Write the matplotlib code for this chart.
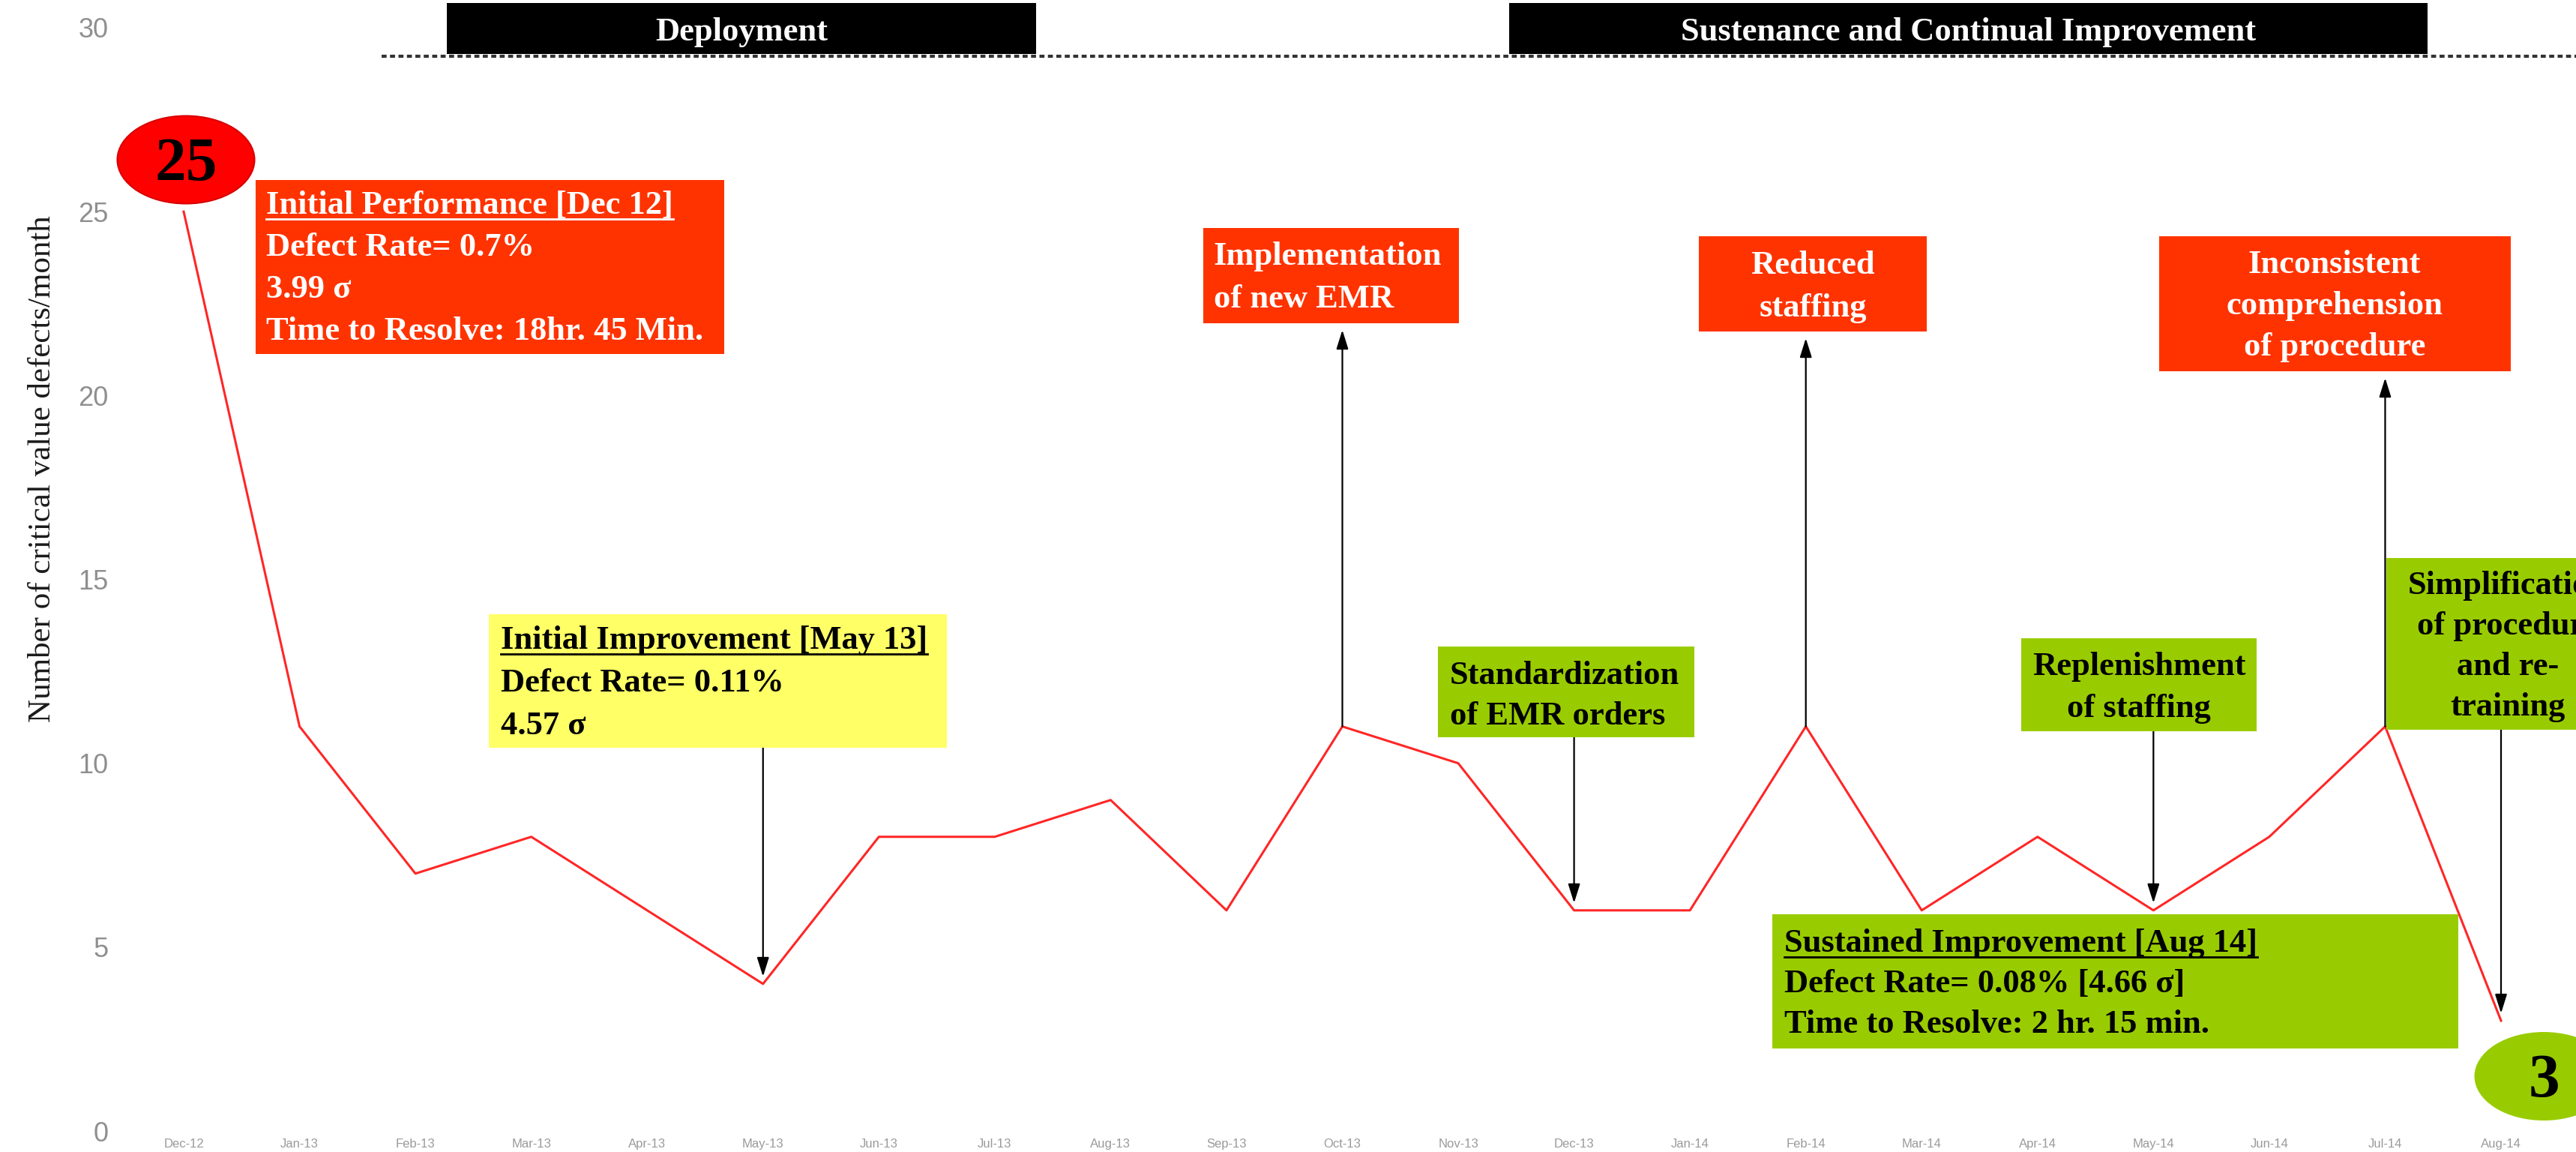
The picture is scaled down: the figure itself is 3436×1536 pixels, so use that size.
import matplotlib
matplotlib.use('Agg')
import matplotlib.pyplot as plt
import matplotlib.patches as patches
import matplotlib.transforms as mtransforms
from matplotlib.lines import Line2D

# ---- data ----
months = ['Dec-12', 'Jan-13', 'Feb-13', 'Mar-13', 'Apr-13', 'May-13', 'Jun-13',
          'Jul-13', 'Aug-13', 'Sep-13', 'Oct-13', 'Nov-13', 'Dec-13', 'Jan-14',
          'Feb-14', 'Mar-14', 'Apr-14', 'May-14', 'Jun-14', 'Jul-14', 'Aug-14']
defects = [25, 11, 7, 8, 6, 4, 8, 8, 9, 6, 11, 10, 6, 6, 11, 6, 8, 6, 8, 11, 3]

y_ticks = [0, 5, 10, 15, 20, 25, 30]
y_label = 'Number of critical value defects/month'
phases = ['Deployment', 'Sustenance and Continual Improvement']

# event text, month the arrow points at
events = [
    (['Initial Improvement [May 13]', 'Defect Rate= 0.11%', '4.57 \u03c3'], 'May-13'),
    (['Implementation', 'of new EMR'], 'Oct-13'),
    (['Standardization', 'of EMR orders'], 'Dec-13'),
    (['Reduced', 'staffing'], 'Feb-14'),
    (['Replenishment', 'of staffing'], 'May-14'),
    (['Inconsistent', 'comprehension', 'of procedure'], 'Jul-14'),
    (['Simplification', 'of procedure', 'and re-', 'training'], 'Aug-14'),
]
summary_start = ['Initial Performance [Dec 12]', 'Defect Rate= 0.7%', '3.99 \u03c3',
                 'Time to Resolve: 18hr. 45 Min.']
summary_end = ['Sustained Improvement [Aug 14]', 'Defect Rate= 0.08% [4.66 \u03c3]',
               'Time to Resolve: 2 hr. 15 min.']

# ---- styling / layout (pixels from top-left) ----
W, H = 3437, 1536
RED_BOX = '#ff3300'
GREEN = '#99cc00'
YELLOW = '#ffff66'
SERIF = 'Liberation Serif'
FS = 32
CAP = 27  # cap top -> baseline, px

fig = plt.figure(figsize=(W / 100, H / 100), dpi=100)
ax = fig.add_axes([150 / W, 28 / H, 1 - 150 / W, (1508 - 37) / H])
ax.set_xlim((150 - 245) / 154.55, (W - 245) / 154.55)
ax.set_ylim(0, 30)
for s in ax.spines.values():
    s.set_visible(False)

# pixel coordinate transform (origin top-left)
pix = mtransforms.Affine2D().scale(1.0 / W, -1.0 / H).translate(0, 1) + fig.transFigure
blend = mtransforms.blended_transform_factory(ax.transData, pix)

x = list(range(len(months)))
ax.plot(x, defects, color='#ff2626', lw=2.2, zorder=3)

ax.set_xticks(x)
ax.set_xticklabels(months, fontsize=12, color='#9a9a9a', family='Liberation Sans')
ax.set_yticks(y_ticks)
ax.set_yticklabels([str(v) for v in y_ticks], fontsize=26, color='#8f8f8f',
                   family='Liberation Sans')
ax.tick_params(axis='both', length=0)
ax.tick_params(axis='x', pad=7)
ax.tick_params(axis='y', pad=4)

fig.text(57 / W, 1 - 625 / H, y_label, rotation=90, ha='center', va='center',
         fontsize=31, family=SERIF, color='#1a1a1a')

# phase bars on top + dashed separator
ax.add_line(Line2D([509, W], [75, 75], transform=pix, color='#333333', lw=3,
                   linestyle=(0, (1.6, 1.1)), clip_on=False, zorder=2))
phase_boxes = [(596, 4, 1382, 72), (2013, 4, 3238, 72)]
for name, (x0, y0, x1, y1) in zip(phases, phase_boxes):
    ax.add_patch(patches.Rectangle((x0, y0), x1 - x0, y1 - y0, transform=pix,
                                   facecolor='black', edgecolor='none',
                                   clip_on=False, zorder=4))
    ax.text((x0 + x1) / 2, 54, name, transform=pix, ha='center', va='baseline',
            fontsize=FS, fontweight='bold', family=SERIF, color='white', zorder=5)

underlined = []


def draw_box(rect, color, lines, tx, top, pitch, ha, tcolor, underline=False):
    x0, y0, x1, y1 = rect
    ax.add_patch(patches.Rectangle((x0, y0), x1 - x0, y1 - y0, transform=pix,
                                   facecolor=color, edgecolor='none',
                                   clip_on=False, zorder=4))
    for i, line in enumerate(lines):
        t = ax.text(tx, top + i * pitch + CAP, line, transform=pix, ha=ha,
                    va='baseline', fontsize=FS, fontweight='bold', family=SERIF,
                    color=tcolor, zorder=5, clip_on=True)
        t.set_clip_box(fig.bbox)
        if underline and i == 0:
            underlined.append((t, top + CAP + 7, tcolor))


# summary boxes
draw_box((341, 240, 966, 472), RED_BOX, summary_start, 355, 258, 56, 'left', 'white', True)
draw_box((2364, 1219, 3279, 1398), GREEN, summary_end, 2380, 1242, 54, 'left', 'black', True)

# event boxes: rect, colour, text x, first cap top, pitch, alignment, text colour, arrow dir
event_layout = [
    ((652, 819, 1263, 997), YELLOW, 668, 838, 57, 'left', 'black', 'down'),
    ((1605, 304, 1946, 431), RED_BOX, 1619, 326, 57, 'left', 'white', 'up'),
    ((1918, 862, 2260, 983), GREEN, 1934, 885, 54, 'left', 'black', 'down'),
    ((2266, 315, 2570, 442), RED_BOX, 2418, 338, 57, 'center', 'white', 'up'),
    ((2696, 851, 3010, 975), GREEN, 2853, 873, 56, 'center', 'black', 'down'),
    ((2880, 315, 3349, 495), RED_BOX, 3114, 337, 55, 'center', 'white', 'up'),
    ((3183, 744, 3505, 973), GREEN, 3345, 765, 54, 'center', 'black', 'down'),
]

arrow = dict(arrowstyle='-|>,head_length=0.7,head_width=0.22', color='black',
             lw=1.6, mutation_scale=22, shrinkA=0, shrinkB=0)
for (lines, month), lay in zip(events, event_layout):
    rect, color, tx, top, pitch, ha, tcolor, direction = lay
    draw_box(rect, color, lines, tx, top, pitch, ha, tcolor, underline=(color == YELLOW))
    i = months.index(month)
    if direction == 'up':
        ax.annotate('', xy=(i, rect[3] + 9), xycoords=blend,
                    xytext=(i, defects[i]), textcoords='data', arrowprops=arrow,
                    annotation_clip=False, zorder=3)
    else:
        ax.annotate('', xy=(i, defects[i] + 0.2), xycoords='data',
                    xytext=(i, rect[3]), textcoords=blend, arrowprops=arrow,
                    annotation_clip=False, zorder=3)

# start / end value bubbles
ax.add_patch(patches.Ellipse((248, 213), 183, 117, transform=pix, facecolor='#ff0000',
                             edgecolor='#d80000', lw=1.5, clip_on=False, zorder=6))
ax.text(248, 240, str(defects[0]), transform=pix, ha='center', va='baseline',
        fontsize=60, fontweight='bold', family=SERIF, color='black', zorder=7)
ax.add_patch(patches.Ellipse((3393, 1435), 185, 118, transform=pix, facecolor=GREEN,
                             edgecolor='none', clip_on=False, zorder=6))
ax.text(3393, 1462, str(defects[-1]), transform=pix, ha='center', va='baseline',
        fontsize=60, fontweight='bold', family=SERIF, color='black', zorder=7)

# underline the heading lines of the summary boxes
fig.canvas.draw()
for t, yb, c in underlined:
    bb = t.get_window_extent()
    ax.add_line(Line2D([bb.x0, bb.x1], [yb, yb], transform=pix, color=c, lw=2,
                       clip_on=False, zorder=5))

fig.savefig('out.png', dpi=100)
